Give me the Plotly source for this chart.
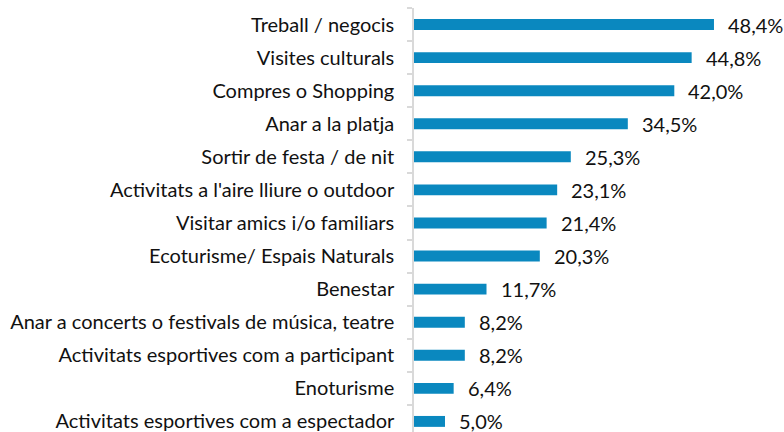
import plotly.graph_objects as go

# Activities reported (share of respondents, %)
categories = [
    "Treball / negocis",
    "Visites culturals",
    "Compres o Shopping",
    "Anar a la platja",
    "Sortir de festa / de nit",
    "Activitats a l'aire lliure o outdoor",
    "Visitar amics i/o familiars",
    "Ecoturisme/ Espais Naturals",
    "Benestar",
    "Anar a concerts o festivals de música, teatre",
    "Activitats esportives com a participant",
    "Enoturisme",
    "Activitats esportives com a espectador",
]
values = [48.4, 44.8, 42.0, 34.5, 25.3, 23.1, 21.4, 20.3, 11.7, 8.2, 8.2, 6.4, 5.0]
value_labels = [f"{v:.1f}%".replace(".", ",") for v in values]

BAR_COLOR = "#0a88bf"
FONT = "Lato"
FSIZE = 20

fig = go.Figure(
    go.Bar(
        x=values,
        y=categories,
        orientation="h",
        marker=dict(color=BAR_COLOR, line=dict(width=0)),
        width=0.33,
        hoverinfo="skip",
    )
)

for cat, v, lab in zip(categories, values, value_labels):
    fig.add_annotation(
        x=v, y=cat, text=lab, showarrow=False,
        xanchor="left", yanchor="middle", xshift=12, yshift=0,
        font=dict(family=FONT, size=FSIZE, color="#111111"),
    )

fig.update_layout(
    width=784, height=432,
    margin=dict(l=414, r=0, t=8, b=0),
    paper_bgcolor="white", plot_bgcolor="white",
    showlegend=False,
    font=dict(family=FONT, size=FSIZE, color="#111111"),
    bargap=0.67,
)
fig.update_xaxes(
    range=[0, 59.7], showgrid=False, zeroline=False,
    showticklabels=False, showline=False, ticks="",
)
fig.update_yaxes(
    type="category",
    range=[12.32, -0.5],
    showgrid=False, zeroline=False,
    showline=True, linecolor="#d9d9d9", linewidth=1.5,
    ticks="outside", tickson="boundaries", ticklen=5,
    tickcolor="#d9d9d9", tickwidth=1.5,
    ticklabelstandoff=14,
    tickfont=dict(family=FONT, size=FSIZE, color="#111111"),
)

fig.write_html("out.html")
